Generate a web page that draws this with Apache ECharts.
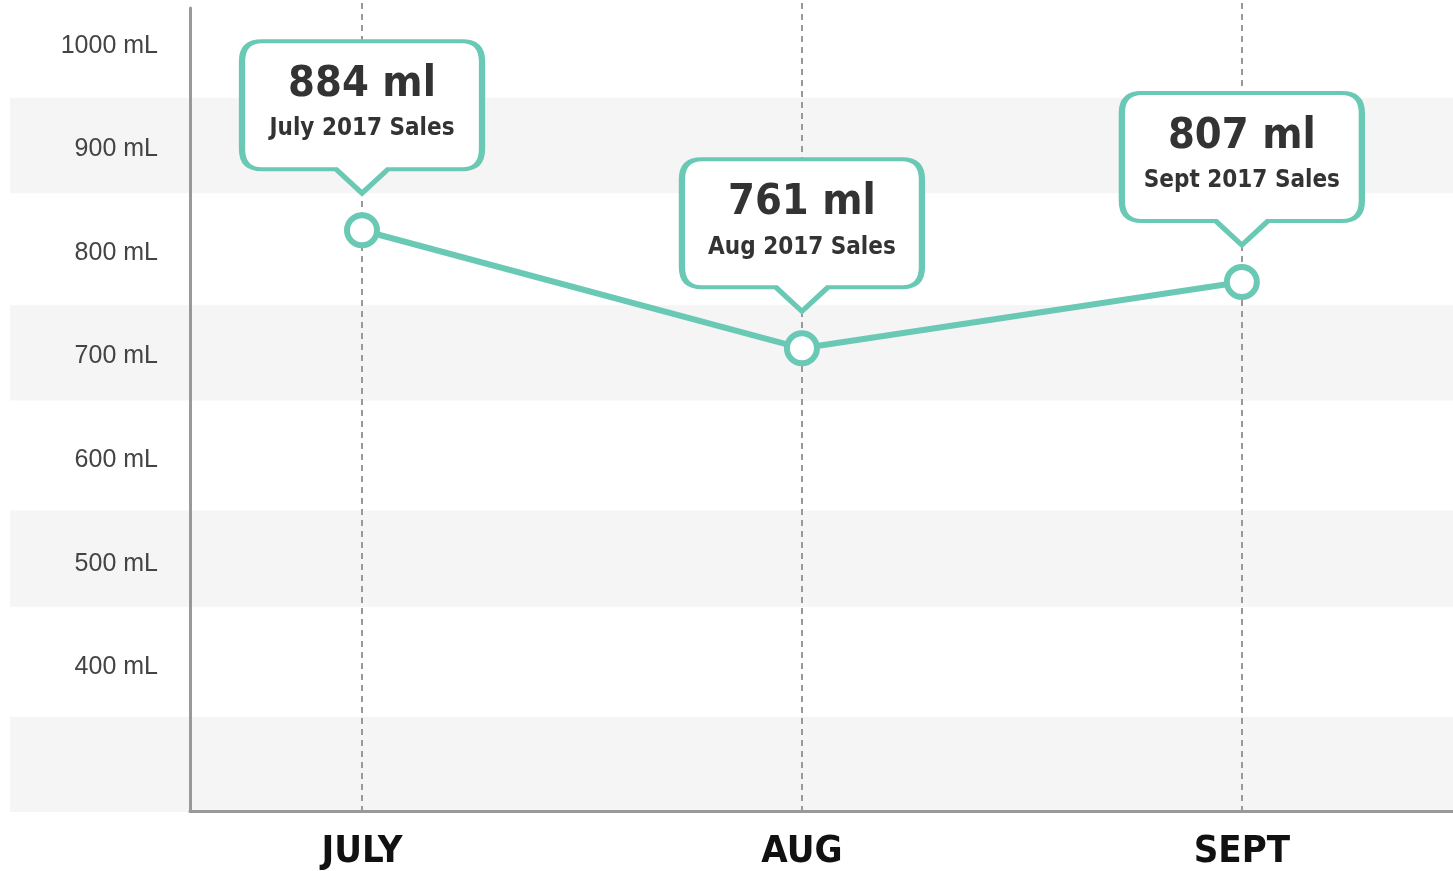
<!DOCTYPE html>
<html>
<head>
<meta charset="utf-8">
<script src="https://cdn.jsdelivr.net/npm/echarts@6/dist/echarts.min.js"></script>
<style>
html,body{margin:0;padding:0;background:#fff;}
#chart{width:1453px;height:871px;}
</style>
</head>
<body>
<div id="chart"></div>
<script>
// ---- data ----
const months = ['JULY', 'AUG', 'SEPT'];
const plotValues = [822, 708, 772];
const calloutValues = ['884 ml', '761 ml', '807 ml'];
const calloutSubtitles = ['July 2017 Sales', 'Aug 2017 Sales', 'Sept 2017 Sales'];
const yTickValues = [400, 500, 600, 700, 800, 900, 1000];
const bandRanges = [[950, 858], [750, 658], [552, 459], [353, 261]];

// ---- styling ----
const TEAL = '#69c9b4';
const COND = "'Liberation Sans Narrow', 'DejaVu Sans Condensed', 'Arial Narrow', sans-serif";
const calloutPath = 'path://M20,0 H220 Q240,0 240,20 V108 Q240,128 220,128 H146 L120,152 L94,128 H20 Q0,128 0,108 V20 Q0,0 20,0 Z';

const chart = echarts.init(document.getElementById('chart'));
const monthIdx = months.map((m, i) => i);

chart.setOption({
  animation: false,
  backgroundColor: '#fff',
  grid: [
    { left: 190, right: 0, top: 8, bottom: 59 },
    { left: 10, right: 0, top: 0, bottom: 59 }
  ],
  xAxis: [
    {
      type: 'value', gridIndex: 0, min: -0.391, max: 2.48, z: 10,
      axisLine: { show: true, onZero: false, lineStyle: { color: '#999', width: 3 } },
      axisTick: { show: false },
      splitLine: { show: false },
      axisLabel: {
        customValues: monthIdx, interval: 0,
        formatter: v => months[Math.round(v)] || '',
        color: '#111', fontFamily: COND, fontWeight: 'bold', fontSize: 38, margin: 22
      }
    },
    {
      type: 'value', gridIndex: 1, min: -0.8, max: 2.48,
      show: false
    }
  ],
  yAxis: [
    {
      type: 'value', gridIndex: 0, min: 261.1, max: 1036.65, z: 10,
      axisLine: { show: true, onZero: false, lineStyle: { color: '#999', width: 3 } },
      axisTick: { show: false },
      splitLine: { show: false },
      axisLabel: {
        customValues: yTickValues, interval: 0, hideOverlap: false,
        formatter: v => v + ' mL',
        padding: [5, 0, 0, 0],
        color: '#444', fontFamily: "'Liberation Sans', Arial, sans-serif", fontSize: 25, margin: 32
      }
    },
    {
      type: 'value', gridIndex: 1, min: 261.1, max: 1044.4,
      show: false
    }
  ],
  series: [
    {
      type: 'line', xAxisIndex: 1, yAxisIndex: 1, data: [], silent: true, z: 0,
      markArea: {
        silent: true,
        itemStyle: { color: '#f5f5f5' },
        data: bandRanges.map(r => [{ yAxis: r[0] }, { yAxis: r[1] }])
      },
      markLine: {
        silent: true, symbol: 'none', label: { show: false },
        lineStyle: { color: '#999', type: [6, 5], width: 2 },
        data: monthIdx.map(i => ({ xAxis: i }))
      }
    },
    {
      type: 'line', xAxisIndex: 0, yAxisIndex: 0, z: 20,
      data: plotValues.map((v, i) => [i, v]),
      lineStyle: { color: TEAL, width: 6 },
      symbol: 'circle', symbolSize: 30,
      itemStyle: { color: '#fff', borderColor: TEAL, borderWidth: 6 },
      markPoint: {
        silent: true,
        symbol: calloutPath,
        symbolSize: [240, 152],
        symbolKeepAspect: false,
        symbolOffset: [0, -113],
        itemStyle: { color: '#fff', borderColor: TEAL, borderWidth: 5 },
        label: {
          show: true, position: 'inside', offset: [0, -12],
          formatter: p => '{a|' + calloutValues[p.dataIndex] + '}\n{b|' + calloutSubtitles[p.dataIndex] + '}',
          rich: {
            a: { fontFamily: COND, fontSize: 43, fontWeight: 'bold', color: '#333', lineHeight: 48, align: 'center' },
            b: { fontFamily: COND, fontSize: 24, fontWeight: 'bold', color: '#333', lineHeight: 40, align: 'center' }
          }
        },
        data: plotValues.map((v, i) => ({ coord: [i, v] }))
      }
    }
  ]
});
</script>
</body>
</html>
